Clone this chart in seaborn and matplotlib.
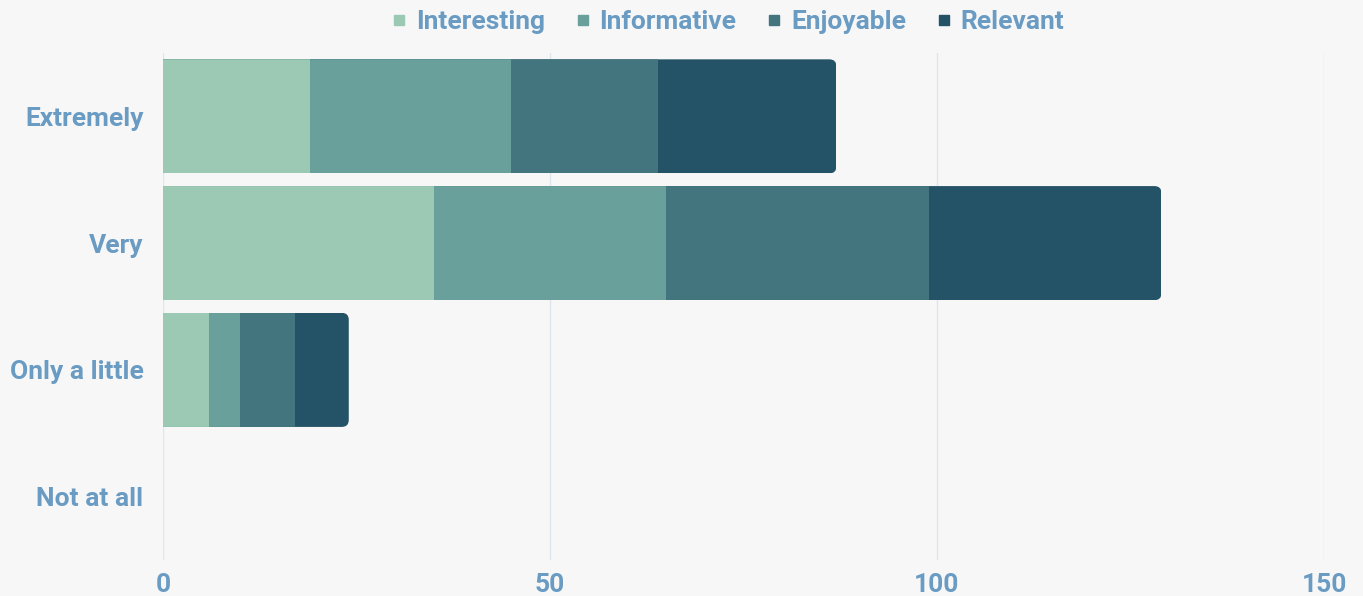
import matplotlib
matplotlib.use("Agg")
import matplotlib.pyplot as plt
import seaborn as sns
import pandas as pd
import numpy as np
from matplotlib.lines import Line2D
from matplotlib.patches import FancyBboxPatch
from matplotlib.transforms import IdentityTransform
from matplotlib import font_manager as fm

categories = ["Extremely", "Very", "Only a little", "Not at all"]
series = ["Interesting", "Informative", "Enjoyable", "Relevant"]
interesting = [19, 35, 6, 0]
informative = [26, 30, 4, 0]
enjoyable = [19, 34, 7, 0]
relevant = [23, 30, 7, 0]
colors = ["#9bc9b4", "#69a09b", "#42757e", "#245266"]
xticks = [0, 50, 100, 150]

text_color = "#6a9bc3"
bg = "#f7f7f7"

sns.set_theme(style="white")
font_name = "Roboto"
plt.rcParams["font.family"] = [font_name, "DejaVu Sans"]
plt.rcParams["font.weight"] = "bold"

bold_file = None
for f in fm.fontManager.ttflist:
    if f.fname.endswith("/Roboto-Bold.ttf"):
        bold_file = f.fname
        break
if bold_file:
    fp = lambda size: fm.FontProperties(fname=bold_file, size=size)
else:
    fp = lambda size: fm.FontProperties(family=font_name, weight="bold", size=size)

FS = 19

W, H = 1363, 596
fig = plt.figure(figsize=(W / 100, H / 100), dpi=100, facecolor=bg)
ax = fig.add_axes([163 / W, 1 - 560 / H, (1324 - 163) / W, (560 - 53) / H])
ax.set_facecolor(bg)

values = np.array([interesting, informative, enjoyable, relevant])
cum = np.cumsum(values, axis=0)
for i in range(len(series) - 1, -1, -1):
    df = pd.DataFrame({"cat": categories, "val": cum[i]})
    sns.barplot(data=df, y="cat", x="val", color=colors[i], ax=ax,
                orient="h", width=0.9, saturation=1, edgecolor="none",
                linewidth=0, zorder=3)

ax.set_xlim(0, 150)
ax.set_ylim(3.5, -0.5)
ax.set_xticks(xticks)
ax.set_xticklabels([str(t) for t in xticks])
ax.xaxis.grid(True, color="#dde5ee", linewidth=1, zorder=0)
ax.set_axisbelow(True)
for s in ax.spines.values():
    s.set_visible(False)
ax.set_xlabel("")
ax.set_ylabel("")
ax.tick_params(axis="both", length=0, colors=text_color)
ax.tick_params(axis="x", pad=9)
ax.tick_params(axis="y", pad=14)
for lbl in ax.get_xticklabels() + ax.get_yticklabels():
    lbl.set_fontproperties(fp(FS))
    lbl.set_color(text_color)

# rounded right end of each stacked bar via clip paths
totals = cum[-1]
r = 7
for p in list(ax.patches):
    yc = p.get_y() + p.get_height() / 2
    idx = int(round(yc))
    if idx < 0 or idx >= len(categories) or totals[idx] <= 0:
        continue
    (x0, y0) = ax.transData.transform((0, idx + 0.45))
    (x1, y1) = ax.transData.transform((totals[idx], idx - 0.45))
    xa, xb = min(x0, x1) - 20, max(x0, x1)
    ya, yb = min(y0, y1), max(y0, y1)
    clip = FancyBboxPatch((xa + r, ya + r), (xb - xa) - 2 * r, (yb - ya) - 2 * r,
                          boxstyle=f"round,pad={r},rounding_size={r}",
                          transform=IdentityTransform())
    p.set_clip_path(clip)

handles = [Line2D([0], [0], marker="s", linestyle="none", markersize=7,
                  markerfacecolor=c, markeredgecolor=c) for c in colors]
leg = fig.legend(handles, series, loc="center", bbox_to_anchor=(728 / W, 1 - 22 / H),
                 ncol=4, frameon=False, handletextpad=0.35, columnspacing=1.14,
                 handlelength=0.58, prop=fp(FS))
for t in leg.get_texts():
    t.set_color(text_color)

fig.savefig("out.png", dpi=100, facecolor=bg)
